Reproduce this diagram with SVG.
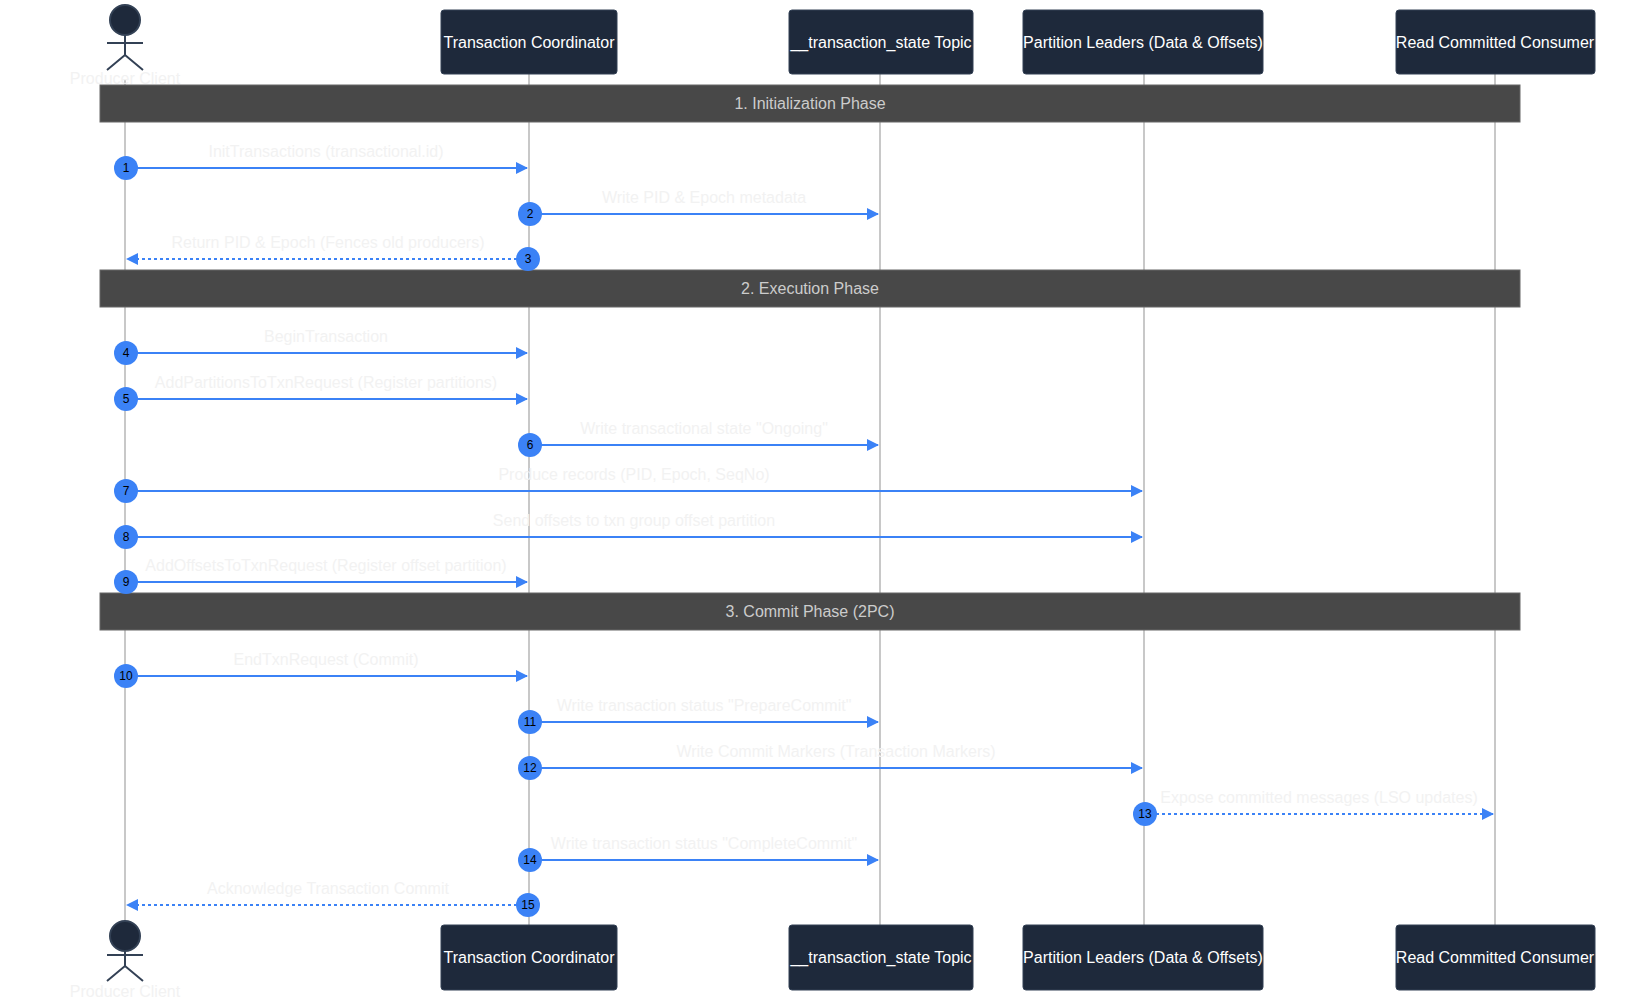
<svg xmlns="http://www.w3.org/2000/svg" width="1645" height="1002" viewBox="0 0 1645 1002">
<style>
.box{fill:#1e293b;stroke:#334155;stroke-width:1}
.bt{font-family:"Liberation Sans",Arial,sans-serif;font-size:16px;fill:#fff;text-anchor:middle}
.life{stroke:#c8c8c8;stroke-width:2}
.band{fill:#484848;stroke:#666;stroke-width:1}
.pt{font-family:"Liberation Sans",Arial,sans-serif;font-size:16px;fill:#ccc;text-anchor:middle}
.msg{stroke:#3b82f6;stroke-width:2;fill:none}
.dash{stroke-dasharray:3,3}
.ml{font-family:"Liberation Sans",Arial,sans-serif;font-size:16px;fill:#f2f2f2;text-anchor:middle}
.num{fill:#3b82f6}
.nt{font-family:"Liberation Sans",Arial,sans-serif;font-size:12px;fill:#000;text-anchor:middle}
.act{fill:#1e293b;stroke:#334155;stroke-width:2}
.al{font-family:"Liberation Sans",Arial,sans-serif;font-size:16px;fill:#f2f2f2;text-anchor:middle}
</style>
<defs>
<marker id="ah" markerWidth="12" markerHeight="12" refX="11" refY="6" orient="auto" markerUnits="userSpaceOnUse"><path d="M0,0 L12,6 L0,12 z" fill="#3b82f6"/></marker>
</defs>
<g id="lifelines">
<line class="life" x1="125" y1="80" x2="125" y2="920"/>
<line class="life" x1="529" y1="74" x2="529" y2="925"/>
<line class="life" x1="880" y1="74" x2="880" y2="925"/>
<line class="life" x1="1144" y1="74" x2="1144" y2="925"/>
<line class="life" x1="1495" y1="74" x2="1495" y2="925"/>
</g>
<g id="producer">
<circle class="act" cx="125" cy="20" r="15"/>
<line class="act" x1="107" y1="43" x2="143" y2="43"/><line class="act" x1="125" y1="35" x2="125" y2="55"/>
<polyline class="act" points="107,70 125,55 143,70" style="fill:none"/>
<text class="al" x="125" y="84">Producer Client</text>
<circle class="act" cx="125" cy="936" r="15"/>
<line class="act" x1="107" y1="955" x2="143" y2="955"/><line class="act" x1="125" y1="951" x2="125" y2="966"/>
<polyline class="act" points="107,981 125,966 143,981" style="fill:none"/>
<text class="al" x="125" y="997">Producer Client</text>
</g>
<g id="coordinator"><rect class="box" x="441" y="10" width="176" height="64" rx="3"/><text class="bt" x="529" y="48">Transaction Coordinator</text>
<rect class="box" x="441" y="925" width="176" height="65" rx="3"/><text class="bt" x="529" y="963">Transaction Coordinator</text></g>
<g id="state"><rect class="box" x="789" y="10" width="184" height="64" rx="3"/><text class="bt" x="881" y="48">__transaction_state Topic</text>
<rect class="box" x="789" y="925" width="184" height="65" rx="3"/><text class="bt" x="881" y="963">__transaction_state Topic</text></g>
<g id="leaders"><rect class="box" x="1023" y="10" width="240" height="64" rx="3"/><text class="bt" x="1143" y="48">Partition Leaders (Data &amp; Offsets)</text>
<rect class="box" x="1023" y="925" width="240" height="65" rx="3"/><text class="bt" x="1143" y="963">Partition Leaders (Data &amp; Offsets)</text></g>
<g id="consumer"><rect class="box" x="1396" y="10" width="199" height="64" rx="3"/><text class="bt" x="1495" y="48">Read Committed Consumer</text>
<rect class="box" x="1396" y="925" width="199" height="65" rx="3"/><text class="bt" x="1495" y="963">Read Committed Consumer</text></g>
<g id="phases">
<rect class="band" x="100" y="85" width="1420" height="37"/><text class="pt" x="810" y="109">1. Initialization Phase</text>
<rect class="band" x="100" y="270" width="1420" height="37"/><text class="pt" x="810" y="294">2. Execution Phase</text>
<rect class="band" x="100" y="593" width="1420" height="37"/><text class="pt" x="810" y="617">3. Commit Phase (2PC)</text>
</g>
<g id="connectors">
<line class="msg" x1="125" y1="168" x2="527" y2="168" marker-end="url(#ah)"/><text class="ml" x="326" y="157">InitTransactions (transactional.id)</text>
<line class="msg" x1="529" y1="214" x2="878" y2="214" marker-end="url(#ah)"/><text class="ml" x="704" y="203">Write PID &amp; Epoch metadata</text>
<line class="msg dash" x1="529" y1="259" x2="127" y2="259" marker-end="url(#ah)"/><text class="ml" x="328" y="248">Return PID &amp; Epoch (Fences old producers)</text>
<line class="msg" x1="125" y1="353" x2="527" y2="353" marker-end="url(#ah)"/><text class="ml" x="326" y="342">BeginTransaction</text>
<line class="msg" x1="125" y1="399" x2="527" y2="399" marker-end="url(#ah)"/><text class="ml" x="326" y="388">AddPartitionsToTxnRequest (Register partitions)</text>
<line class="msg" x1="529" y1="445" x2="878" y2="445" marker-end="url(#ah)"/><text class="ml" x="704" y="434">Write transactional state "Ongoing"</text>
<line class="msg" x1="125" y1="491" x2="1142" y2="491" marker-end="url(#ah)"/><text class="ml" x="634" y="480">Produce records (PID, Epoch, SeqNo)</text>
<line class="msg" x1="125" y1="537" x2="1142" y2="537" marker-end="url(#ah)"/><text class="ml" x="634" y="526">Send offsets to txn group offset partition</text>
<line class="msg" x1="125" y1="582" x2="527" y2="582" marker-end="url(#ah)"/><text class="ml" x="326" y="571">AddOffsetsToTxnRequest (Register offset partition)</text>
<line class="msg" x1="125" y1="676" x2="527" y2="676" marker-end="url(#ah)"/><text class="ml" x="326" y="665">EndTxnRequest (Commit)</text>
<line class="msg" x1="529" y1="722" x2="878" y2="722" marker-end="url(#ah)"/><text class="ml" x="704" y="711">Write transaction status "PrepareCommit"</text>
<line class="msg" x1="529" y1="768" x2="1142" y2="768" marker-end="url(#ah)"/><text class="ml" x="836" y="757">Write Commit Markers (Transaction Markers)</text>
<line class="msg dash" x1="1144" y1="814" x2="1493" y2="814" marker-end="url(#ah)"/><text class="ml" x="1319" y="803">Expose committed messages (LSO updates)</text>
<line class="msg" x1="529" y1="860" x2="878" y2="860" marker-end="url(#ah)"/><text class="ml" x="704" y="849">Write transaction status "CompleteCommit"</text>
<line class="msg dash" x1="529" y1="905" x2="127" y2="905" marker-end="url(#ah)"/><text class="ml" x="328" y="894">Acknowledge Transaction Commit</text>
</g>
<g id="numbers">
<circle class="num" cx="126" cy="168" r="12"/><text class="nt" x="126" y="172">1</text>
<circle class="num" cx="530" cy="214" r="12"/><text class="nt" x="530" y="218">2</text>
<circle class="num" cx="528" cy="259" r="12"/><text class="nt" x="528" y="263">3</text>
<circle class="num" cx="126" cy="353" r="12"/><text class="nt" x="126" y="357">4</text>
<circle class="num" cx="126" cy="399" r="12"/><text class="nt" x="126" y="403">5</text>
<circle class="num" cx="530" cy="445" r="12"/><text class="nt" x="530" y="449">6</text>
<circle class="num" cx="126" cy="491" r="12"/><text class="nt" x="126" y="495">7</text>
<circle class="num" cx="126" cy="537" r="12"/><text class="nt" x="126" y="541">8</text>
<circle class="num" cx="126" cy="582" r="12"/><text class="nt" x="126" y="586">9</text>
<circle class="num" cx="126" cy="676" r="12"/><text class="nt" x="126" y="680">10</text>
<circle class="num" cx="530" cy="722" r="12"/><text class="nt" x="530" y="726">11</text>
<circle class="num" cx="530" cy="768" r="12"/><text class="nt" x="530" y="772">12</text>
<circle class="num" cx="1145" cy="814" r="12"/><text class="nt" x="1145" y="818">13</text>
<circle class="num" cx="530" cy="860" r="12"/><text class="nt" x="530" y="864">14</text>
<circle class="num" cx="528" cy="905" r="12"/><text class="nt" x="528" y="909">15</text>
</g>
</svg>
